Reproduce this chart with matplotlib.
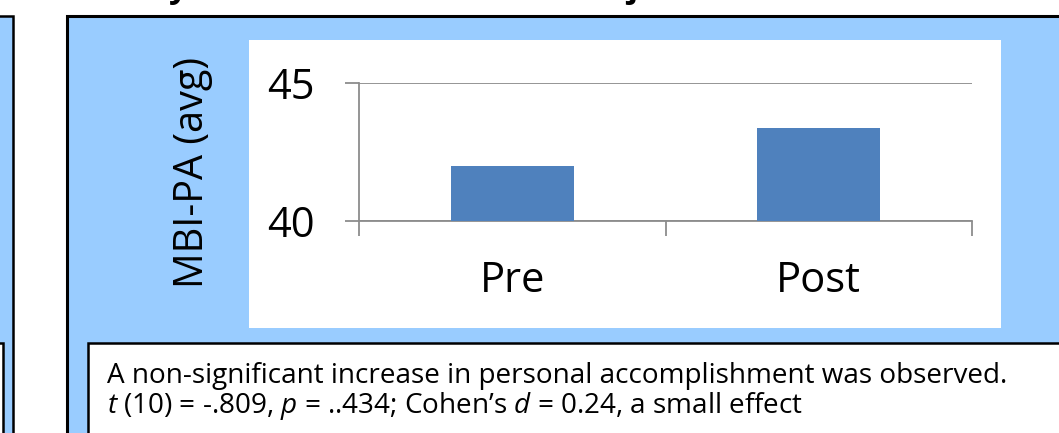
import matplotlib
matplotlib.use('Agg')
import matplotlib.pyplot as plt
from matplotlib.patches import Rectangle

plt.rcParams['font.family'] = ['Open Sans', 'DejaVu Sans']
plt.rcParams['mathtext.fontset'] = 'custom'
plt.rcParams['mathtext.it'] = 'Open Sans:italic'
plt.rcParams['mathtext.rm'] = 'Open Sans'

# data
categories = ['Pre', 'Post']
mbi_pa = [42.0, 43.35]
y_ticks = [40, 45]
y_label = 'MBI-PA (avg)'
note_lines = [
    'A non-significant increase in personal accomplishment was observed.',
    r'$\mathit{t}$ (10) = -.809, $\mathit{p}$ = ..434; Cohen’s $\mathit{d}$ = 0.24, a small effect',
]

W, H = 1059, 433
PANEL = '#99CCFF'
BAR = '#4F81BD'
GRID = '#8C8C8C'

fig = plt.figure(figsize=(W / 100, H / 100), dpi=100)

# background layer in pixel coords
bg = fig.add_axes([0, 0, 1, 1])
bg.set_xlim(0, W)
bg.set_ylim(H, 0)
bg.axis('off')


def box(x0, y0, x1, y1, fc, lw=1.8):
    bg.add_patch(Rectangle((x0, y0), x1 - x0, y1 - y0, facecolor=fc,
                           edgecolor='black', linewidth=lw, clip_on=False))


# neighbouring panel on the left
box(-20, 16, 13, H + 20, PANEL)
box(-20, 343, 3, H + 20, 'white')

# main panel
box(67, 16, W + 20, H + 20, PANEL, lw=2.2)
bg.add_patch(Rectangle((249, 40), 752, 288, facecolor='white', edgecolor='none'))
box(88, 343, W + 20, H + 20, 'white')

# cut-off title above the panels (only descenders show in the reference)
bg.text(178, -3, 'y', fontsize=24, fontweight='bold', ha='center', va='baseline')
bg.text(632, -3, 'j', fontsize=24, fontweight='bold', ha='center', va='baseline')

# y label
bg.text(193, 172, y_label, fontsize=28.5, rotation=90, ha='center', va='center')

# note text
bg.text(107, 383, note_lines[0], fontsize=20.1, va='baseline')
bg.text(107, 413, note_lines[1], fontsize=20.1, va='baseline')

# chart axes
x0, x1, ytop, ybot = 359, 972, 82.7, 221
ax = fig.add_axes([x0 / W, 1 - ybot / H, (x1 - x0) / W, (ybot - ytop) / H])
ax.set_facecolor('none')
ax.bar(range(len(categories)), mbi_pa, width=0.4, color=BAR, zorder=3)
ax.set_xlim(-0.5, len(categories) - 0.5)
ax.set_ylim(y_ticks[0], y_ticks[-1])
ax.set_yticks(y_ticks)
ax.set_xticks(range(len(categories)))
ax.set_xticklabels(categories)
ax.set_xticks([i - 0.5 for i in range(len(categories) + 1)], minor=True)

for s in ['top', 'right']:
    ax.spines[s].set_visible(False)
for s in ['left', 'bottom']:
    ax.spines[s].set_color(GRID)
    ax.spines[s].set_linewidth(1.3)
ax.yaxis.grid(True, color=GRID, linewidth=1.3)
ax.set_axisbelow(True)

ax.tick_params(axis='y', length=10, width=1.3, color=GRID, labelsize=30, pad=22)
ax.tick_params(axis='x', which='major', length=0, labelsize=30, pad=28)
ax.tick_params(axis='x', which='minor', length=11, width=1.3, color=GRID)

fig.savefig('out.png', dpi=100)
